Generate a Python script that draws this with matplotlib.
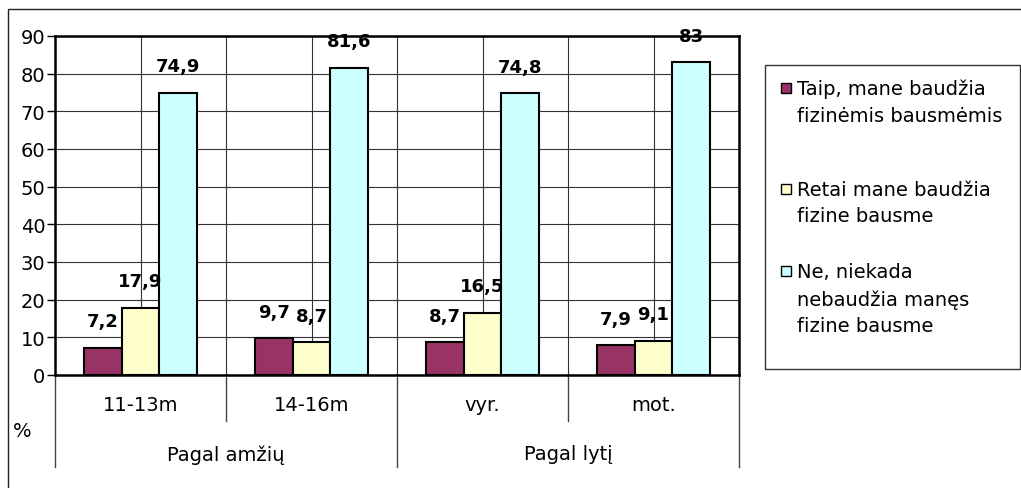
import numpy as np
import matplotlib
matplotlib.use("Agg")
import matplotlib.pyplot as plt
from matplotlib.patches import Rectangle

# the reference text is wide (stretched Arial), DejaVu Sans matches the widths better
plt.rcParams['font.family'] = ['DejaVu Sans']

# -------------------------------------------------------
# data
# -------------------------------------------------------
categories = ['11-13m', '14-16m', 'vyr.', 'mot.']
groups = ['Pagal amžių', 'Pagal lytį']
series_names = [
    ['Taip, mane baudžia', 'fizinėmis bausmėmis'],
    ['Retai mane baudžia', 'fizine bausme'],
    ['Ne, niekada', 'nebaudžia manęs', 'fizine bausme'],
]
taip = [7.2, 9.7, 8.7, 7.9]
retai = [17.9, 8.7, 16.5, 9.1]
niekada = [74.9, 81.6, 74.8, 83]
yticks = [0, 10, 20, 30, 40, 50, 60, 70, 80, 90]

colors = ['#993366', '#FFFFCC', '#CCFFFF']
W, H = 1021, 489
FS = 14

fig = plt.figure(figsize=(W / 100, H / 100), dpi=100)
ax = fig.add_axes([55 / W, 1 - 376 / H, (739 - 55) / W, (376 - 37) / H])

x = np.arange(len(categories))
bw = 0.22
for i, vals in enumerate([taip, retai, niekada]):
    bars = ax.bar(x + (i - 1) * bw, vals, bw, color=colors[i],
                  edgecolor='black', linewidth=1.5, zorder=3)
    for b, v in zip(bars, vals):
        ax.annotate(f"{v:g}".replace('.', ','),
                    (b.get_x() + b.get_width() / 2, b.get_height()),
                    xytext=(0, 19), textcoords='offset points',
                    ha='center', va='center', fontsize=13,
                    fontweight='bold', zorder=5)

ax.set_xlim(-0.5, len(categories) - 0.5)
ax.set_ylim(0, 90)
ax.set_yticks(yticks)
ax.tick_params(axis='y', labelsize=FS, length=6, width=1, pad=1, direction='out')
ax.set_xticks(np.arange(-0.5, len(categories), 1))
ax.set_xticks(x, minor=True)
ax.tick_params(axis='x', which='both', length=0, labelbottom=False)
ax.grid(True, which='both', color='#333333', linewidth=0.8, zorder=0)
ax.set_axisbelow(True)
for s in ax.spines.values():
    s.set_linewidth(1.8)
    s.set_color('black')

# category labels and the group separators under the axis
tr = ax.get_xaxis_transform()
for xi, c in zip(x, categories):
    ax.text(xi, -0.088, c, transform=tr, ha='center', va='center', fontsize=FS)
for gi, g in enumerate(groups):
    ax.text(2 * gi + 0.5, -0.233, g, transform=tr, ha='center', va='center', fontsize=FS)
for b in np.arange(-0.5, len(categories), 1):
    depth = -0.272 if (b + 0.5) % 2 == 0 else -0.136
    ax.plot([b, b], [0, depth], transform=tr, color='#444444',
            linewidth=1, clip_on=False)

fig.text(22 / W, 1 - 432 / H, '%', ha='center', va='center', fontsize=FS)

# outer chart frame (right and bottom fall outside the picture)
fig.patches.append(Rectangle((8 / W, -0.1), 1.2, 1.1 - 10 / H,
                             transform=fig.transFigure, fill=False,
                             edgecolor='#222222', linewidth=1))

# legend box
fig.patches.append(Rectangle((765 / W, 1 - 370 / H), (1020 - 765) / W, (370 - 66) / H,
                             transform=fig.transFigure, facecolor='white',
                             edgecolor='#333333', linewidth=1))
line_y = [[89, 117], [190, 217], [272, 300, 327]]
for name, ys, col in zip(series_names, line_y, colors):
    fig.patches.append(Rectangle((781 / W, 1 - (ys[0] + 5) / H), 10 / W, 10 / H,
                                 transform=fig.transFigure, facecolor=col,
                                 edgecolor='black', linewidth=1))
    for line, yy in zip(name, ys):
        fig.text(797 / W, 1 - yy / H, line, ha='left', va='center', fontsize=FS)

plt.savefig('out.png', dpi=100)
